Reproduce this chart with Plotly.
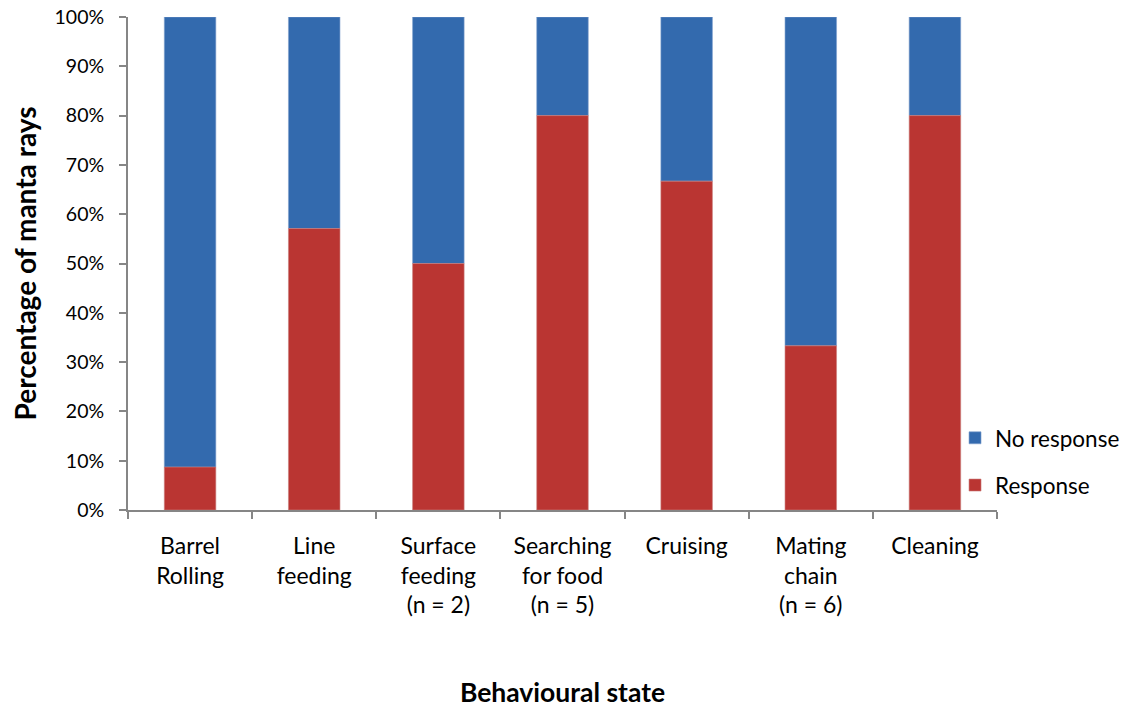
import plotly.graph_objects as go

categories = ["Barrel<br>Rolling", "Line<br>feeding", "Surface<br>feeding<br>(n = 2)",
              "Searching<br>for food<br>(n = 5)", "Cruising", "Mating<br>chain<br>(n = 6)", "Cleaning"]
response = [8.7, 57.1, 50.0, 80.0, 66.7, 33.3, 80.0]
no_response = [100 - v for v in response]
y_ticks = [0, 10, 20, 30, 40, 50, 60, 70, 80, 90, 100]
y_tick_labels = [f"{v}%" for v in y_ticks]

FONT = "Lato, 'Open Sans', sans-serif"

fig = go.Figure()
# No response sits on top of Response (base = response share)
fig.add_trace(go.Bar(x=categories, y=no_response, base=response, name="No response", legendgroup="n",
                     marker=dict(color="#336AAE", line=dict(color="#7F9FCC", width=0.6))))
fig.add_trace(go.Bar(x=categories, y=response, name="Response", legendgroup="r",
                     marker=dict(color="#BA3532", line=dict(color="#C9807E", width=0.6))))

fig.update_layout(
    barmode="overlay",
    bargap=0.585,
    width=1130, height=710,
    margin=dict(l=120, r=141, t=9, b=208),
    paper_bgcolor="white", plot_bgcolor="white",
    font=dict(family=FONT, size=20, color="black"),
    legend=dict(traceorder="grouped", x=0.9517, xanchor="left", y=0.098, yanchor="middle",
                font=dict(size=22.5), tracegroupgap=15, bgcolor="rgba(0,0,0,0)"),
    showlegend=True,
)
fig.update_xaxes(showline=True, linecolor="#868686", linewidth=2, ticks="outside",
                 tickson="boundaries", ticklen=7, tickcolor="#868686", tickwidth=2,
                 tickfont=dict(size=23), showgrid=False, automargin=False,
                 ticklabelstandoff=14,
                 title=dict(text="<b>Behavioural state</b>", font=dict(size=26.5), standoff=66))
fig.update_yaxes(range=[0, 100], tickvals=y_ticks, ticktext=y_tick_labels,
                 showline=True, linecolor="#868686", linewidth=2, ticks="outside",
                 ticklen=7, tickcolor="#868686", tickwidth=2, showgrid=False,
                 tickfont=dict(size=19.5), automargin=False, ticklabelstandoff=11,
                 ticklabeloverflow="allow",
                 title=dict(text="<b>Percentage of manta rays</b>", font=dict(size=28), standoff=26))

fig.write_html("out.html")
